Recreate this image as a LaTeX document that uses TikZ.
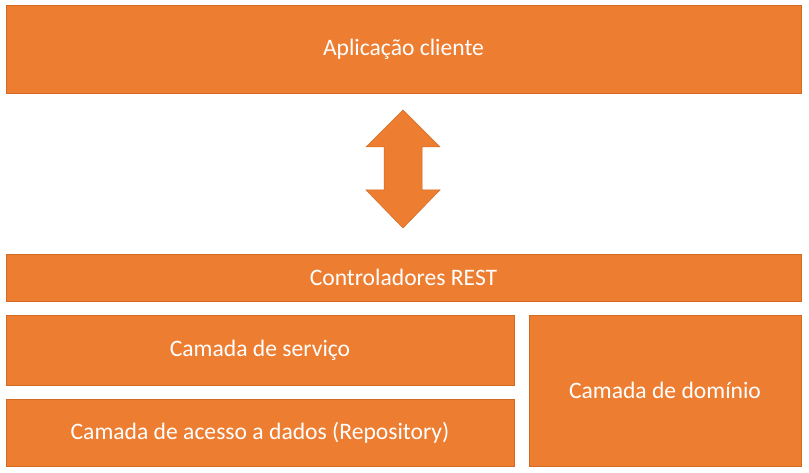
\documentclass[tikz,border=0pt]{standalone}
\usepackage{fontspec}
\setmainfont{Carlito}
\definecolor{laranja}{HTML}{ED7D31}
\definecolor{borda}{HTML}{D26A22}
\begin{document}
\begin{tikzpicture}[
  x=1pt, y=-1pt,
  camada/.style={rectangle, draw=borda, fill=laranja, line width=0.8pt, inner sep=0pt,
    text=white, font=\fontsize{23.6}{28}\selectfont},
  seta/.style={fill=laranja, draw=borda, line width=0.5pt}
]
  \useasboundingbox (0,0) rectangle (809,473);

  % Cliente (topo)
  \node[camada, minimum width=795pt, minimum height=88pt] (cliente) at (403.5, 49) {Aplicação cliente};

  % Seta dupla
  \draw[seta] (403,110) -- (440,147) -- (422,147) -- (422,190) -- (440,190)
    -- (403,228) -- (366,190) -- (384,190) -- (384,147) -- (366,147) -- cycle;

  % Camadas da API
  \node[camada, minimum width=795pt, minimum height=47pt] (rest) at (403.5, 277.5) {Controladores REST};
  \node[camada, minimum width=508pt, minimum height=70pt] (servico) at (260, 350) {Camada de serviço};
  \node[camada, minimum width=508pt, minimum height=67pt] (repo) at (260, 432.5) {Camada de acesso a dados (Repository)};
  \node[camada, minimum width=272pt, minimum height=151pt] (dominio) at (665, 390.5) {Camada de domínio};
\end{tikzpicture}
\end{document}
